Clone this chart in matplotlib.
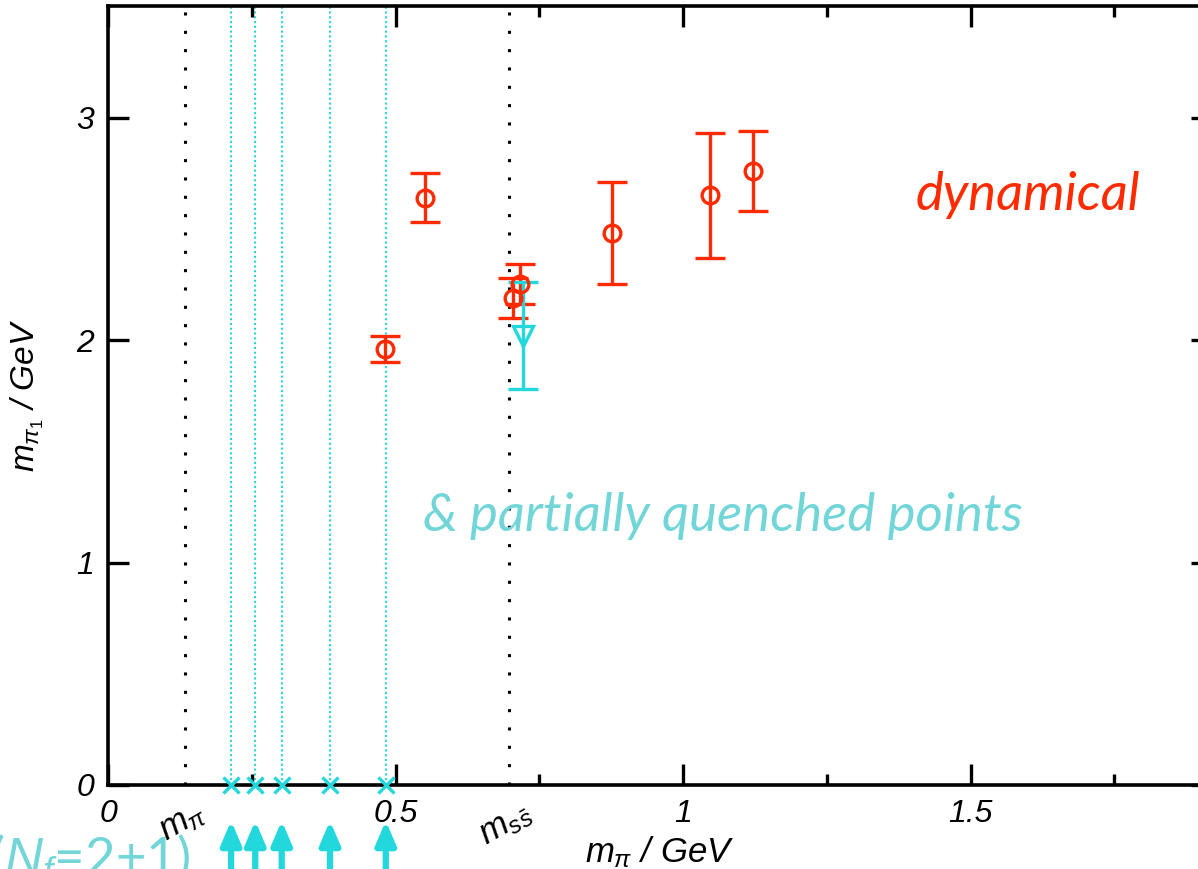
import numpy as np
import matplotlib.pyplot as plt
from matplotlib.ticker import MultipleLocator

# dynamical points (red)
dyn_x = [0.482, 0.551, 0.704, 0.717, 0.877, 1.047, 1.122]
dyn_y = [1.96, 2.64, 2.19, 2.25, 2.48, 2.65, 2.76]
dyn_lo = [0.06, 0.11, 0.09, 0.09, 0.23, 0.28, 0.18]
dyn_hi = [0.06, 0.11, 0.09, 0.09, 0.23, 0.28, 0.18]

# partially quenched point (cyan)
pq_x = [0.722]
pq_y = [2.02]
pq_lo = [0.24]
pq_hi = [0.24]

# valence masses (cyan dotted lines, crosses, arrows)
val_x = [0.214, 0.256, 0.302, 0.386, 0.483]

# reference masses (black dotted lines)
ref_x = [0.134, 0.697]
ref_labels = [r'$m_\pi$', r'$m_{s\bar{s}}$']

xticks = [0, 0.5, 1, 1.5]
xticklabels = ['0', '0.5', '1', '1.5']
yticks = [0, 1, 2, 3]
yticklabels = ['0', '1', '2', '3']

red = '#ff2a00'
cyan = '#22d8dc'
light_cyan = '#72d6d8'

plt.rcParams['font.family'] = ['Liberation Sans', 'DejaVu Sans']
plt.rcParams['mathtext.fontset'] = 'custom'
plt.rcParams['mathtext.it'] = 'Liberation Sans:italic'
plt.rcParams['mathtext.rm'] = 'Liberation Sans'

fig = plt.figure(figsize=(11.98, 8.69), dpi=100)
ax = fig.add_axes([0.0902, 0.0967, 0.9215, 0.896])
ax.set_xlim(0, 1.92)
ax.set_ylim(0, 3.5)

for x in ref_x:
    ax.axvline(x, color='black', linestyle=(0, (1, 5)), linewidth=2.2, zorder=1)
for x in val_x:
    ax.axvline(x, color=cyan, linestyle=(0, (1, 1.3)), linewidth=1.5, zorder=1)

ax.plot(val_x, np.zeros(len(val_x)), 'x', color=cyan, markersize=12,
        markeredgewidth=2.4, clip_on=False, zorder=4)

ax.errorbar(dyn_x, dyn_y, yerr=[dyn_lo, dyn_hi], fmt='o', color=red,
            markerfacecolor='none', markersize=12, markeredgewidth=2.4,
            elinewidth=2.4, capsize=11, capthick=2.4, zorder=3)
ax.errorbar(pq_x, pq_y, yerr=[pq_lo, pq_hi], fmt='v', color=cyan,
            markerfacecolor='none', markersize=15, markeredgewidth=2.4,
            elinewidth=2.4, capsize=11, capthick=2.4, zorder=3)

# arrows below the axis
trans = ax.get_xaxis_transform()
for x in val_x:
    ax.annotate('', xy=(x, -0.046), xycoords=trans, xytext=(x, -0.13),
                textcoords=trans,
                arrowprops=dict(arrowstyle='-|>,head_width=0.6,head_length=1.4',
                                color=cyan, linewidth=4.5, shrinkA=0, shrinkB=0),
                annotation_clip=False)

ax.set_xticks(xticks)
ax.set_xticklabels(xticklabels, style='italic', fontsize=23)
ax.set_yticks(yticks)
ax.set_yticklabels(yticklabels, style='italic', fontsize=23)
ax.xaxis.set_minor_locator(MultipleLocator(0.25))
ax.tick_params(which='both', direction='in', top=True, right=True, width=2.4)
ax.tick_params(which='major', length=15, pad=10)
ax.tick_params(which='minor', length=8)
for s in ax.spines.values():
    s.set_linewidth(2.6)

for x, lab in zip(ref_x, ref_labels):
    ax.text(x - 0.005, -0.014, lab, transform=trans, rotation=30, fontsize=25,
            style='italic', ha='center', va='top')

ax.set_xlabel(r'$m_\pi$ / GeV', fontsize=25, style='italic', labelpad=4)
ax.set_ylabel(r'$m_{\pi_1}$ / GeV', fontsize=24, style='italic', labelpad=22)

ax.text(1.795, 2.65, 'dynamical', color=red, fontsize=38, style='italic',
        family=['Lato', 'DejaVu Sans'], ha='right', va='center')
ax.text(1.07, 1.21, '& partially quenched points', color=light_cyan, fontsize=38,
        style='italic', family=['Lato', 'DejaVu Sans'], ha='center', va='center')
fig.text(-0.008, 0.042, r'($N_f$=2+1)', color=light_cyan, fontsize=38,
         family=['Lato', 'DejaVu Sans'], ha='left', va='top')

fig.savefig('out.png', dpi=100)
